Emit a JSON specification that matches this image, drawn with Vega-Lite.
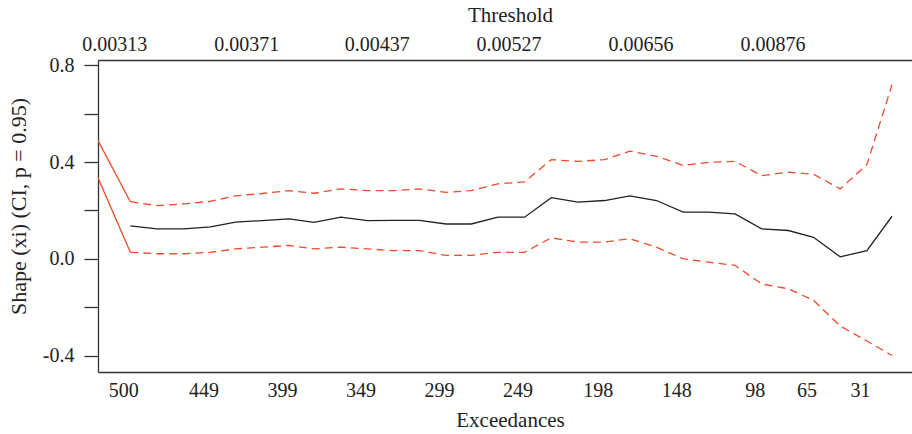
{
  "$schema": "https://vega.github.io/schema/vega-lite/v6.json",
  "autosize": {"type": "none"},
  "padding": {"left": 98, "top": 60, "right": 0, "bottom": 62},
  "width": 814,
  "height": 312,
  "background": "white",
  "config": {
    "view": {"stroke": null},
    "axis": {
      "labelFont": "Liberation Serif",
      "labelFontSize": 20,
      "labelColor": "#222222",
      "titleFont": "Liberation Serif",
      "titleFontSize": 21,
      "titleFontWeight": "normal",
      "titleColor": "#222222",
      "domainColor": "#333333",
      "domainWidth": 1.3,
      "tickColor": "#333333",
      "tickWidth": 1.3,
      "grid": false
    }
  },
  "datasets": {
    "shape": [
      {"e": 500, "xi": 0.136}, {"e": 483, "xi": 0.124}, {"e": 466, "xi": 0.124},
      {"e": 449, "xi": 0.132}, {"e": 433, "xi": 0.152}, {"e": 416, "xi": 0.158},
      {"e": 399, "xi": 0.165}, {"e": 383, "xi": 0.151}, {"e": 366, "xi": 0.172},
      {"e": 349, "xi": 0.158}, {"e": 333, "xi": 0.159}, {"e": 316, "xi": 0.159},
      {"e": 299, "xi": 0.144}, {"e": 283, "xi": 0.144}, {"e": 266, "xi": 0.172},
      {"e": 249, "xi": 0.172}, {"e": 232, "xi": 0.253}, {"e": 215, "xi": 0.234},
      {"e": 198, "xi": 0.241}, {"e": 182, "xi": 0.260}, {"e": 165, "xi": 0.241},
      {"e": 148, "xi": 0.193}, {"e": 132, "xi": 0.193}, {"e": 115, "xi": 0.186},
      {"e": 98, "xi": 0.124}, {"e": 81, "xi": 0.117}, {"e": 65, "xi": 0.089},
      {"e": 48, "xi": 0.008}, {"e": 31, "xi": 0.034}, {"e": 15, "xi": 0.176}
    ],
    "ciLead": [
      {"e": 520.6, "bound": "upper", "v": 0.489}, {"e": 500, "bound": "upper", "v": 0.236},
      {"e": 520.6, "bound": "lower", "v": 0.335}, {"e": 500, "bound": "lower", "v": 0.027}
    ],
    "ci": [
      {"e": 500, "bound": "upper", "v": 0.236}, {"e": 483, "bound": "upper", "v": 0.220},
      {"e": 466, "bound": "upper", "v": 0.227}, {"e": 449, "bound": "upper", "v": 0.238},
      {"e": 433, "bound": "upper", "v": 0.260}, {"e": 416, "bound": "upper", "v": 0.270},
      {"e": 399, "bound": "upper", "v": 0.282}, {"e": 383, "bound": "upper", "v": 0.271},
      {"e": 366, "bound": "upper", "v": 0.289}, {"e": 349, "bound": "upper", "v": 0.282},
      {"e": 333, "bound": "upper", "v": 0.282}, {"e": 316, "bound": "upper", "v": 0.289},
      {"e": 299, "bound": "upper", "v": 0.275}, {"e": 283, "bound": "upper", "v": 0.282},
      {"e": 266, "bound": "upper", "v": 0.310}, {"e": 249, "bound": "upper", "v": 0.318},
      {"e": 232, "bound": "upper", "v": 0.410}, {"e": 215, "bound": "upper", "v": 0.403},
      {"e": 198, "bound": "upper", "v": 0.410}, {"e": 182, "bound": "upper", "v": 0.445},
      {"e": 165, "bound": "upper", "v": 0.424}, {"e": 148, "bound": "upper", "v": 0.386},
      {"e": 132, "bound": "upper", "v": 0.399}, {"e": 115, "bound": "upper", "v": 0.403},
      {"e": 98, "bound": "upper", "v": 0.344}, {"e": 81, "bound": "upper", "v": 0.358},
      {"e": 65, "bound": "upper", "v": 0.350}, {"e": 48, "bound": "upper", "v": 0.289},
      {"e": 31, "bound": "upper", "v": 0.390}, {"e": 15, "bound": "upper", "v": 0.720},
      {"e": 500, "bound": "lower", "v": 0.027}, {"e": 483, "bound": "lower", "v": 0.021},
      {"e": 466, "bound": "lower", "v": 0.021}, {"e": 449, "bound": "lower", "v": 0.027},
      {"e": 433, "bound": "lower", "v": 0.041}, {"e": 416, "bound": "lower", "v": 0.048},
      {"e": 399, "bound": "lower", "v": 0.055}, {"e": 383, "bound": "lower", "v": 0.041},
      {"e": 366, "bound": "lower", "v": 0.048}, {"e": 349, "bound": "lower", "v": 0.041},
      {"e": 333, "bound": "lower", "v": 0.034}, {"e": 316, "bound": "lower", "v": 0.034},
      {"e": 299, "bound": "lower", "v": 0.014}, {"e": 283, "bound": "lower", "v": 0.014},
      {"e": 266, "bound": "lower", "v": 0.027}, {"e": 249, "bound": "lower", "v": 0.027},
      {"e": 232, "bound": "lower", "v": 0.087}, {"e": 215, "bound": "lower", "v": 0.069},
      {"e": 198, "bound": "lower", "v": 0.069}, {"e": 182, "bound": "lower", "v": 0.083},
      {"e": 165, "bound": "lower", "v": 0.048}, {"e": 148, "bound": "lower", "v": 0.000},
      {"e": 132, "bound": "lower", "v": -0.014}, {"e": 115, "bound": "lower", "v": -0.027},
      {"e": 98, "bound": "lower", "v": -0.104}, {"e": 81, "bound": "lower", "v": -0.124},
      {"e": 65, "bound": "lower", "v": -0.172}, {"e": 48, "bound": "lower", "v": -0.278},
      {"e": 31, "bound": "lower", "v": -0.340}, {"e": 15, "bound": "lower", "v": -0.400}
    ]
  },
  "resolve": {"axis": {"x": "independent"}},
  "layer": [
    {
      "data": {"name": "ciLead"},
      "mark": {"type": "line", "color": "#EF4A2A", "strokeWidth": 1.3, "clip": true},
      "encoding": {
        "x": {
          "field": "e", "type": "quantitative",
          "scale": {"domain": [2.3, 520.6], "reverse": true, "nice": false, "zero": false},
          "axis": {
            "orient": "bottom",
            "title": "Exceedances",
            "values": [500, 449, 399, 349, 299, 249, 198, 148, 98, 65, 31],
            "ticks": false,
            "labelPadding": 8,
            "labelOffset": -7,
            "labelOverlap": false,
            "titleX": 412,
            "titleY": 48,
            "titleBaseline": "middle"
          }
        },
        "y": {
          "field": "v", "type": "quantitative",
          "scale": {"domain": [-0.468, 0.822], "nice": false, "zero": false},
          "axis": {
            "title": "Shape (xi) (CI, p = 0.95)",
            "values": [-0.4, -0.2, 0, 0.2, 0.4, 0.6, 0.8],
            "labelExpr": "datum.value == 0.8 ? '0.8' : datum.value == 0.4 ? '0.4' : datum.value == 0 ? '0.0' : datum.value == -0.4 ? '-0.4' : ''",
            "tickSize": 14,
            "labelPadding": 10,
            "labelOverlap": false,
            "titleX": -80,
            "titleY": 146,
            "titleBaseline": "middle",
            "titleAlign": "center",
            "titleFontSize": 22
          }
        },
        "detail": {"field": "bound"}
      }
    },
    {
      "data": {"name": "ci"},
      "mark": {"type": "line", "color": "#EF4A2A", "strokeWidth": 1.3, "strokeDash": [8, 5]},
      "encoding": {
        "x": {"field": "e", "type": "quantitative", "axis": null},
        "y": {"field": "v", "type": "quantitative"},
        "detail": {"field": "bound"}
      }
    },
    {
      "data": {"name": "shape"},
      "mark": {"type": "line", "color": "#222222", "strokeWidth": 1.3},
      "encoding": {
        "x": {
          "field": "e", "type": "quantitative",
          "axis": {
            "orient": "top",
            "title": "Threshold",
            "values": [500, 416, 333, 249, 165, 81],
            "labelExpr": "datum.value == 500 ? '0.00313' : datum.value == 416 ? '0.00371' : datum.value == 333 ? '0.00437' : datum.value == 249 ? '0.00527' : datum.value == 165 ? '0.00656' : '0.00876'",
            "ticks": false,
            "labelPadding": 6,
            "labelOffset": -16,
            "labelOverlap": false,
            "titleX": 412,
            "titleY": -45,
            "titleBaseline": "middle"
          }
        },
        "y": {"field": "xi", "type": "quantitative"}
      }
    }
  ]
}
